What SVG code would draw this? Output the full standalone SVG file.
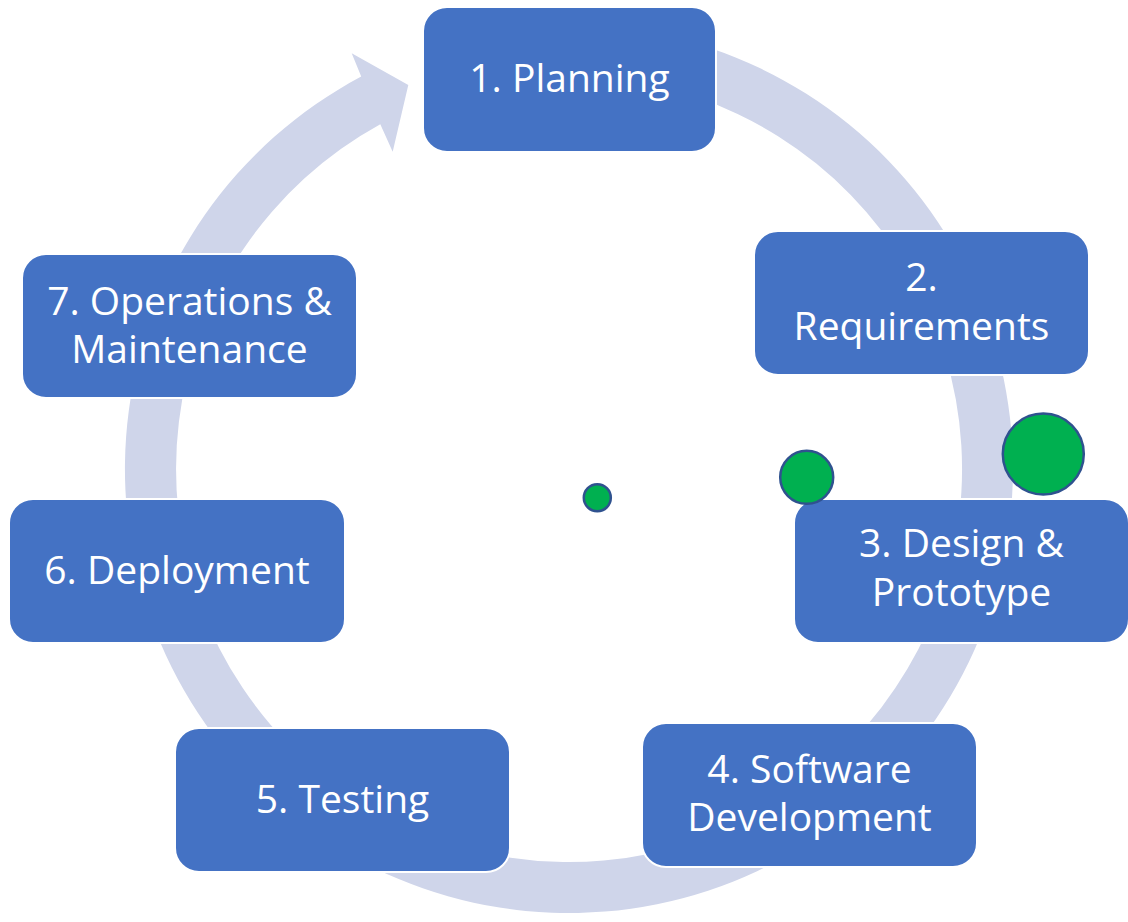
<svg xmlns="http://www.w3.org/2000/svg" width="1128" height="922" viewBox="0 0 1128 922">
<style>
.node rect{fill:#4472C4;stroke:#FFFFFF;stroke-width:2}
.node text{fill:#FFFFFF;font-family:"Open Sans","DejaVu Sans",sans-serif;font-size:39px;text-anchor:middle}
.dot{fill:#00B050;stroke:#2F528F;stroke-width:2.5}
</style>
<rect width="1128" height="922" fill="#FFFFFF"/>
<g id="connectors">
<path d="M 607.7 26.7 A 444 444 0 1 1 361.2 76.6 L 351.7 53.3 L 408.3 85 L 392.7 151.7 L 380.3 124.3 A 393 393 0 1 0 603.3 77.5 Z" fill="#CFD5EA"/>
</g>
<g id="node1" class="node"><rect x="423" y="7" width="293" height="145" rx="24"/><text x="569.5" y="92">1. Planning</text></g>
<g id="node2" class="node"><rect x="754" y="231" width="335" height="144" rx="24"/><text x="921.5" y="291">2.</text><text x="921.5" y="340">Requirements</text></g>
<g id="node3" class="node"><rect x="794" y="499" width="335" height="144" rx="24"/><text x="961.5" y="557">3. Design &amp;</text><text x="961.5" y="606">Prototype</text></g>
<g id="node4" class="node"><rect x="642" y="723" width="335" height="144" rx="24"/><text x="809.5" y="783">4. Software</text><text x="809.5" y="831">Development</text></g>
<g id="node5" class="node"><rect x="175" y="728" width="335" height="144" rx="24"/><text x="342.5" y="813">5. Testing</text></g>
<g id="node6" class="node"><rect x="9" y="499" width="336" height="144" rx="24"/><text x="177" y="584">6. Deployment</text></g>
<g id="node7" class="node"><rect x="22" y="254" width="335" height="144" rx="24"/><text x="189.5" y="315">7. Operations &amp;</text><text x="189.5" y="363">Maintenance</text></g>
<g id="markers">
<circle class="dot" cx="597.3" cy="497.7" r="13.5"/>
<circle class="dot" cx="806.7" cy="477.3" r="26.5"/>
<circle class="dot" cx="1043.3" cy="454" r="40.5"/>
</g>
</svg>
